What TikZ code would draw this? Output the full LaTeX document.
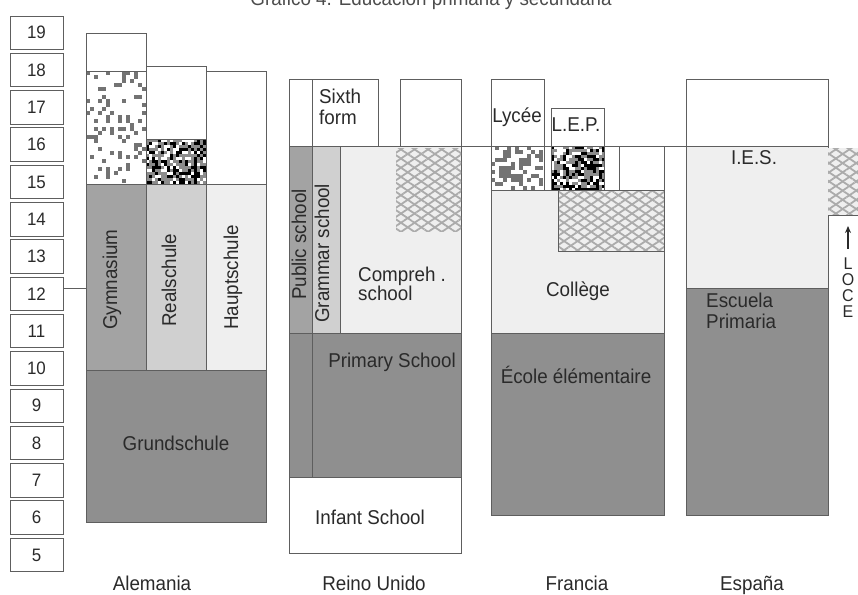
\documentclass[tikz,border=0pt]{standalone}
\usepackage{fontspec}
\setmainfont{Liberation Sans}[FakeStretch=0.94]
\usetikzlibrary{arrows.meta,patterns.meta}

\definecolor{edge}{HTML}{5E5E5E}
\definecolor{dark}{HTML}{8F8F8F}
\definecolor{mid}{HTML}{A3A3A3}
\definecolor{light}{HTML}{D0D0D0}
\definecolor{pale}{HTML}{EFEFEF}
\definecolor{hatch}{HTML}{ABABAB}
\definecolor{ink}{HTML}{2A2A2A}

\tikzstyle{box} = [draw=edge, line width=0.9pt]
\tikzstyle{agebox} = [draw=edge, line width=0.9pt, minimum width=53pt, minimum height=33.5pt, inner sep=0pt, text=ink, font=\fontsize{18}{20}\selectfont]
\tikzstyle{lab} = [font=\fontsize{20}{21}\selectfont, text=ink, inner sep=0pt]
\tikzstyle{vlab} = [lab, rotate=90, anchor=west]
\tikzstyle{letter} = [lab, font=\fontsize{17}{17}\selectfont]
\tikzstyle{hatchA} = [pattern={Lines[angle=34,distance=7.6pt,line width=1.8pt]}, pattern color=hatch]
\tikzstyle{hatchB} = [pattern={Lines[angle=-34,distance=7.6pt,line width=1.8pt]}, pattern color=hatch]
\tikzstyle{arrow} = [line width=1.8pt, ink, -{Stealth[length=7pt,width=6pt]}]

% random blocks: seed, x, y, columns, rows, cell, probability, colour
\newcommand{\specks}[8]{%
  \pgfmathsetseed{#1}
  \foreach \i in {1,...,#4} {
    \foreach \j in {1,...,#5} {
      \pgfmathtruncatemacro\hit{rnd<#7}
      \ifnum\hit=1
        \fill[#8] ({#2+(\i-1)*#6},{#3+(\j-1)*#6}) rectangle ++(#6,#6);
      \fi
    }
  }}

\begin{document}
\begin{tikzpicture}[x=1pt, y=-1pt]
  \useasboundingbox (0,0) rectangle (858,594);
  \clip (0,0) rectangle (858,594);

  % title, cut by the top edge
  \node (title) [lab, anchor=base, text=black!70] at (431,5.5) {Gráfico 4. Educación primaria y secundaria};

  % ages
  \foreach \a in {5,...,19}
    \node (a\a) [agebox] at (36.5,{32.75+(19-\a)*37.3}) {\a};

  % Alemania
  \draw [box, fill=dark] (86,370) rectangle (266,522);
  \draw [box, fill=mid] (86,184) rectangle (146,370);
  \draw [box, fill=light] (146,184) rectangle (206,370);
  \draw [box, fill=pale] (206,184) rectangle (266,370);
  \draw [box, fill=white] (86,33) rectangle (146,71);
  \specks{3}{86}{71}{15}{28}{4}{0.22}{black!55}
  \draw [box] (86,71) rectangle (146,184);
  \draw [box, fill=white] (146,66) rectangle (206,139);
  \fill [black!45] (146,139) rectangle (206,184);
  \specks{5}{146}{139}{20}{15}{3}{0.42}{black}
  \specks{8}{146}{139}{20}{15}{3}{0.25}{white}
  \draw [box] (146,139) rectangle (206,184);
  \draw [box, fill=white] (206,71) rectangle (266,184);

  \node (gym) [vlab] at (112,330) {Gymnasium};
  \node (real) [vlab] at (169,327) {Realschule};
  \node (haupt) [vlab] at (233,330) {Hauptschule};
  \node (grund) [lab] at (176,443) {Grundschule};
  \coordinate (gymedge) at (86,288);
  \draw [box] (a12.east |- gymedge) -- (gymedge);

  % Reino Unido
  \draw [box, fill=white] (289,477) rectangle (461,553);
  \draw [box, fill=dark] (289,333) rectangle (461,477);
  \draw [box, fill=mid] (289,146) rectangle (312,333);
  \draw [box, fill=light] (312,146) rectangle (340,333);
  \draw [box, fill=pale] (340,146) rectangle (461,333);
  \fill [hatchA] (396,148) rectangle (461,231);
  \fill [hatchB] (396,148) rectangle (461,231);
  \draw [box, fill=white] (289,79) rectangle (378,146);
  \draw [box, fill=white] (400,79) rectangle (461,146);
  \draw [box] (312,79) -- (312,477);

  \node (sixth) [lab, align=left, anchor=west] at (319,107) {Sixth\\form};
  \node (public) [vlab] at (299,300) {Public school};
  \node (grammar) [vlab] at (322,323) {Grammar school};
  \node (compreh) [lab, align=left, anchor=west, font=\fontsize{20}{18.5}\selectfont] at (358,284) {Compreh .\\school};
  \node (primary) [lab] at (392,362) {Primary School};
  \node (infant) [lab] at (370,517) {Infant School};

  % Francia
  \draw [box, fill=dark] (491,333) rectangle (664,515);
  \draw [box, fill=pale] (491,190) rectangle (664,333);
  \fill [hatchA] (558,190) rectangle (664,251);
  \fill [hatchB] (558,190) rectangle (664,251);
  \draw [box] (558,190) rectangle (664,251);
  \draw [box, fill=white] (491,79) rectangle (544,146);
  \fill [white] (491,146) rectangle (544,190);
  \specks{11}{491}{146}{13}{11}{4}{0.33}{black!55}
  \draw [box] (491,146) rectangle (544,190);
  \draw [box, fill=white] (551,108) rectangle (604,146);
  \fill [black!45] (551,146) rectangle (604,190);
  \specks{13}{551}{146}{18}{15}{3}{0.42}{black}
  \specks{17}{551}{146}{18}{15}{3}{0.25}{white}
  \draw [box] (551,146) rectangle (604,190);
  \draw [box, fill=white] (619,146) rectangle (664,190);

  \node (lycee) [lab] at (517,117) {Lycée};
  \node (lep) [lab] at (576,125) {L.E.P.};
  \node (college) [lab] at (578,291) {Collège};
  \node (ecole) [lab] at (576,375) {École élémentaire};

  % España
  \draw [box, fill=dark] (686,288) rectangle (828,515);
  \draw [box, fill=pale] (686,146) rectangle (828,288);
  \draw [box, fill=white] (686,79) rectangle (828,146);
  \fill [pale] (828,148) rectangle (862,215);
  \fill [hatchA] (828,148) rectangle (862,215);
  \fill [hatchB] (828,148) rectangle (862,215);
  \draw [box] (828,215) -- (862,215);

  \node (ies) [lab] at (754,158) {I.E.S.};
  \node (escuela) [lab, align=left, anchor=west] at (706,311) {Escuela\\Primaria};
  \node (loceL) [letter] at (848,264) {L};
  \node (loceO) [letter] at (848,280) {O};
  \node (loceC) [letter] at (848,296) {C};
  \node (loceE) [letter] at (848,312) {E};
  \coordinate (locetip) at (848,226);
  \draw [arrow] ([yshift=9pt]loceL.north) -- (locetip);

  % line at age 16
  \draw [box] (289,146) -- (828,146);

  % countries
  \node (de) [lab, anchor=base] at (152,590) {Alemania};
  \node (uk) [lab, anchor=base] at (374,590) {Reino Unido};
  \node (fr) [lab, anchor=base] at (577,590) {Francia};
  \node (es) [lab, anchor=base] at (752,590) {España};
\end{tikzpicture}
\end{document}
